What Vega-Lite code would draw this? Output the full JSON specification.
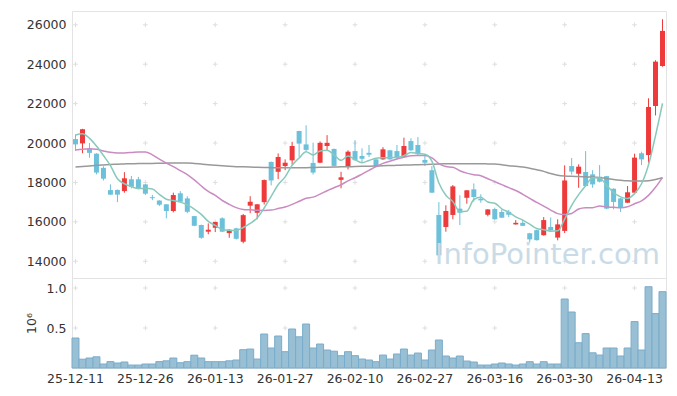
{
  "$schema": "https://vega.github.io/schema/vega-lite/v6.json",
  "background": "white",
  "padding": {"left": 24, "top": 10, "right": 10, "bottom": 0},
  "spacing": 0,
  "bounds": "flush",
  "config": {
    "font": "DejaVu Sans",
    "view": {"stroke": "#e3e3e3"},
    "axis": {"labelFont": "DejaVu Sans", "labelFontSize": 12.5, "labelColor": "#333333", "domain": false, "ticks": false, "grid": false, "labelPadding": 6}
  },
  "datasets": {
    "k": [
      {"d": "25-12-11", "o": 20200, "h": 20440, "l": 19600, "c": 19930, "v": 0.375, "m5": 20406, "m20": 19645, "m60": 18780},
      {"d": "25-12-12", "o": 19980, "h": 20720, "l": 19480, "c": 20700, "v": 0.11, "m5": 20472, "m20": 19690, "m60": 18810},
      {"d": "25-12-15", "o": 19710, "h": 20000, "l": 19250, "c": 19500, "v": 0.125, "m5": 20239, "m20": 19710, "m60": 18840},
      {"d": "25-12-16", "o": 19460, "h": 19480, "l": 18410, "c": 18500, "v": 0.14, "m5": 19848, "m20": 19680, "m60": 18870},
      {"d": "25-12-17", "o": 18740, "h": 18820, "l": 18100, "c": 18190, "v": 0.05, "m5": 19364, "m20": 19600, "m60": 18890},
      {"d": "25-12-18", "o": 17610, "h": 17900, "l": 17370, "c": 17380, "v": 0.08, "m5": 18854, "m20": 19530, "m60": 18910},
      {"d": "25-12-19", "o": 17620, "h": 17640, "l": 17000, "c": 17380, "v": 0.0625, "m5": 18190, "m20": 19500, "m60": 18925},
      {"d": "25-12-22", "o": 17560, "h": 18520, "l": 17480, "c": 18210, "v": 0.075, "m5": 17932, "m20": 19500, "m60": 18940},
      {"d": "25-12-23", "o": 18160, "h": 18330, "l": 17700, "c": 17780, "v": 0.037, "m5": 17788, "m20": 19520, "m60": 18950},
      {"d": "25-12-24", "o": 18160, "h": 18280, "l": 17650, "c": 17700, "v": 0.037, "m5": 17690, "m20": 19550, "m60": 18955},
      {"d": "25-12-26", "o": 17900, "h": 17920, "l": 17360, "c": 17430, "v": 0.05, "m5": 17700, "m20": 19550, "m60": 18960},
      {"d": "25-12-29", "o": 17250, "h": 17370, "l": 17100, "c": 17200, "v": 0.05, "m5": 17664, "m20": 19400, "m60": 18965},
      {"d": "25-12-30", "o": 17080, "h": 17100, "l": 16800, "c": 16870, "v": 0.08, "m5": 17396, "m20": 19180, "m60": 18970},
      {"d": "26-01-02", "o": 16890, "h": 16900, "l": 16180, "c": 16550, "v": 0.09, "m5": 17150, "m20": 18980, "m60": 18980},
      {"d": "26-01-05", "o": 16550, "h": 17480, "l": 16480, "c": 17360, "v": 0.125, "m5": 17082, "m20": 18800, "m60": 18990},
      {"d": "26-01-06", "o": 17450, "h": 17560, "l": 17000, "c": 17020, "v": 0.066, "m5": 17000, "m20": 18600, "m60": 18990},
      {"d": "26-01-07", "o": 17190, "h": 17300, "l": 16440, "c": 16510, "v": 0.079, "m5": 16862, "m20": 18400, "m60": 18985},
      {"d": "26-01-08", "o": 16290, "h": 16300, "l": 15780, "c": 15800, "v": 0.16, "m5": 16648, "m20": 18130, "m60": 18960},
      {"d": "26-01-09", "o": 15840, "h": 15860, "l": 15140, "c": 15190, "v": 0.125, "m5": 16376, "m20": 17820, "m60": 18930},
      {"d": "26-01-12", "o": 15500, "h": 15920, "l": 15370, "c": 15600, "v": 0.079, "m5": 16024, "m20": 17540, "m60": 18900},
      {"d": "26-01-13", "o": 15700, "h": 16000, "l": 15480, "c": 15990, "v": 0.079, "m5": 15818, "m20": 17343, "m60": 18875},
      {"d": "26-01-14", "o": 16180, "h": 16230, "l": 15480, "c": 15500, "v": 0.079, "m5": 15616, "m20": 17083, "m60": 18845},
      {"d": "26-01-15", "o": 15430, "h": 15620, "l": 15190, "c": 15600, "v": 0.09, "m5": 15576, "m20": 16888, "m60": 18820},
      {"d": "26-01-16", "o": 15670, "h": 15700, "l": 15100, "c": 15140, "v": 0.1, "m5": 15566, "m20": 16720, "m60": 18800},
      {"d": "26-01-19", "o": 14990, "h": 16400, "l": 14910, "c": 16340, "v": 0.229, "m5": 15714, "m20": 16628, "m60": 18790},
      {"d": "26-01-20", "o": 16820, "h": 17300, "l": 16440, "c": 17020, "v": 0.237, "m5": 15920, "m20": 16610, "m60": 18780},
      {"d": "26-01-21", "o": 16460, "h": 16900, "l": 16130, "c": 16890, "v": 0.112, "m5": 16198, "m20": 16585, "m60": 18765},
      {"d": "26-01-22", "o": 17000, "h": 18150, "l": 16880, "c": 18120, "v": 0.425, "m5": 16702, "m20": 16581, "m60": 18755},
      {"d": "26-01-23", "o": 19040, "h": 19060, "l": 17850, "c": 18100, "v": 0.25, "m5": 17294, "m20": 16597, "m60": 18750},
      {"d": "26-01-26", "o": 18540, "h": 19470, "l": 18170, "c": 19290, "v": 0.4, "m5": 17884, "m20": 16676, "m60": 18745},
      {"d": "26-01-27", "o": 18830, "h": 19170, "l": 18620, "c": 19000, "v": 0.204, "m5": 18280, "m20": 16755, "m60": 18745},
      {"d": "26-01-28", "o": 19120, "h": 20060, "l": 18900, "c": 19850, "v": 0.4875, "m5": 18872, "m20": 16887, "m60": 18745},
      {"d": "26-01-29", "o": 20610, "h": 20620, "l": 19300, "c": 19970, "v": 0.39, "m5": 19242, "m20": 17042, "m60": 18745},
      {"d": "26-01-30", "o": 19930, "h": 20900, "l": 19600, "c": 19650, "v": 0.55, "m5": 19552, "m20": 17197, "m60": 18750},
      {"d": "26-02-02", "o": 18990, "h": 20020, "l": 18400, "c": 18500, "v": 0.25, "m5": 19394, "m20": 17254, "m60": 18755},
      {"d": "26-02-03", "o": 19000, "h": 20080, "l": 18980, "c": 20010, "v": 0.3, "m5": 19596, "m20": 17404, "m60": 18765},
      {"d": "26-02-04", "o": 19850, "h": 20400, "l": 19630, "c": 20010, "v": 0.225, "m5": 19628, "m20": 17579, "m60": 18770},
      {"d": "26-02-05", "o": 19700, "h": 19720, "l": 18820, "c": 18840, "v": 0.21, "m5": 19402, "m20": 17731, "m60": 18780},
      {"d": "26-02-06", "o": 18130, "h": 18540, "l": 17700, "c": 18260, "v": 0.154, "m5": 19124, "m20": 17884, "m60": 18790},
      {"d": "26-02-09", "o": 18800, "h": 19630, "l": 18660, "c": 19560, "v": 0.204, "m5": 19336, "m20": 18082, "m60": 18797},
      {"d": "26-02-10", "o": 19590, "h": 20140, "l": 19100, "c": 19130, "v": 0.154, "m5": 19160, "m20": 18239, "m60": 18805},
      {"d": "26-02-11", "o": 19340, "h": 19730, "l": 19000, "c": 19200, "v": 0.112, "m5": 18998, "m20": 18424, "m60": 18815},
      {"d": "26-02-12", "o": 19500, "h": 19900, "l": 19290, "c": 19410, "v": 0.1, "m5": 19112, "m20": 18615, "m60": 18825},
      {"d": "26-02-13", "o": 19170, "h": 19180, "l": 18800, "c": 18840, "v": 0.079, "m5": 19228, "m20": 18800, "m60": 18835},
      {"d": "26-02-19", "o": 19170, "h": 19790, "l": 19150, "c": 19680, "v": 0.162, "m5": 19252, "m20": 18967, "m60": 18850},
      {"d": "26-02-20", "o": 19630, "h": 19650, "l": 19150, "c": 19170, "v": 0.112, "m5": 19260, "m20": 19074, "m60": 18860},
      {"d": "26-02-23", "o": 19590, "h": 19900, "l": 19170, "c": 19250, "v": 0.175, "m5": 19270, "m20": 19192, "m60": 18868},
      {"d": "26-02-24", "o": 19290, "h": 20270, "l": 19280, "c": 19850, "v": 0.237, "m5": 19358, "m20": 19279, "m60": 18880},
      {"d": "26-02-25", "o": 20100, "h": 20240, "l": 19600, "c": 19630, "v": 0.162, "m5": 19516, "m20": 19355, "m60": 18890},
      {"d": "26-02-26", "o": 19900, "h": 20300, "l": 19340, "c": 19430, "v": 0.187, "m5": 19466, "m20": 19362, "m60": 18900},
      {"d": "26-02-27", "o": 19140, "h": 19340, "l": 18830, "c": 19000, "v": 0.1, "m5": 19432, "m20": 19362, "m60": 18910},
      {"d": "26-03-03", "o": 18620, "h": 18830, "l": 17470, "c": 17480, "v": 0.225, "m5": 19078, "m20": 19244, "m60": 18920},
      {"d": "26-03-04", "o": 16350, "h": 17000, "l": 14080, "c": 14300, "v": 0.35, "m5": 17968, "m20": 18960, "m60": 18935},
      {"d": "26-03-05", "o": 15740, "h": 16840, "l": 15500, "c": 16550, "v": 0.15, "m5": 17352, "m20": 18805, "m60": 18945},
      {"d": "26-03-06", "o": 16350, "h": 17870, "l": 16130, "c": 17800, "v": 0.125, "m5": 17026, "m20": 18770, "m60": 18950},
      {"d": "26-03-09", "o": 16670, "h": 17350, "l": 15840, "c": 16460, "v": 0.15, "m5": 16518, "m20": 18593, "m60": 18950},
      {"d": "26-03-10", "o": 17220, "h": 17610, "l": 16920, "c": 17600, "v": 0.087, "m5": 16542, "m20": 18472, "m60": 18950},
      {"d": "26-03-11", "o": 17650, "h": 17950, "l": 17020, "c": 17260, "v": 0.075, "m5": 17134, "m20": 18393, "m60": 18945},
      {"d": "26-03-12", "o": 17170, "h": 17400, "l": 16970, "c": 17090, "v": 0.037, "m5": 17242, "m20": 18335, "m60": 18945},
      {"d": "26-03-13", "o": 16360, "h": 16640, "l": 16280, "c": 16630, "v": 0.037, "m5": 17008, "m20": 18188, "m60": 18940},
      {"d": "26-03-16", "o": 16650, "h": 16720, "l": 16100, "c": 16130, "v": 0.05, "m5": 16942, "m20": 18038, "m60": 18935},
      {"d": "26-03-17", "o": 16500, "h": 16630, "l": 16200, "c": 16210, "v": 0.0625, "m5": 16664, "m20": 17889, "m60": 18900},
      {"d": "26-03-18", "o": 16510, "h": 16610, "l": 16240, "c": 16360, "v": 0.05, "m5": 16484, "m20": 17736, "m60": 18850},
      {"d": "26-03-19", "o": 15870, "h": 16090, "l": 15860, "c": 15950, "v": 0.037, "m5": 16256, "m20": 17592, "m60": 18820},
      {"d": "26-03-20", "o": 15950, "h": 16110, "l": 15790, "c": 15800, "v": 0.05, "m5": 16090, "m20": 17398, "m60": 18780},
      {"d": "26-03-23", "o": 15420, "h": 15440, "l": 14950, "c": 15110, "v": 0.079, "m5": 15886, "m20": 17195, "m60": 18720},
      {"d": "26-03-24", "o": 15580, "h": 15600, "l": 15050, "c": 15070, "v": 0.05, "m5": 15658, "m20": 16986, "m60": 18640},
      {"d": "26-03-25", "o": 15320, "h": 16240, "l": 15300, "c": 16090, "v": 0.079, "m5": 15604, "m20": 16798, "m60": 18560},
      {"d": "26-03-26", "o": 15740, "h": 16220, "l": 15550, "c": 15570, "v": 0.05, "m5": 15528, "m20": 16595, "m60": 18450},
      {"d": "26-03-27", "o": 15200, "h": 16130, "l": 15060, "c": 15870, "v": 0.05, "m5": 15542, "m20": 16417, "m60": 18370},
      {"d": "26-03-30", "o": 15540, "h": 18870, "l": 15430, "c": 18100, "v": 0.8625, "m5": 16140, "m20": 16372, "m60": 18330},
      {"d": "26-03-31", "o": 18830, "h": 19240, "l": 18400, "c": 18550, "v": 0.7, "m5": 16836, "m20": 16425, "m60": 18310},
      {"d": "26-04-01", "o": 18440, "h": 18920, "l": 17730, "c": 18800, "v": 0.316, "m5": 17378, "m20": 16650, "m60": 18300},
      {"d": "26-04-02", "o": 18530, "h": 19590, "l": 17800, "c": 17820, "v": 0.43, "m5": 17828, "m20": 16714, "m60": 18285},
      {"d": "26-04-03", "o": 18410, "h": 18620, "l": 17730, "c": 17900, "v": 0.19, "m5": 18234, "m20": 16719, "m60": 18270},
      {"d": "26-04-06", "o": 18290, "h": 18880, "l": 18000, "c": 18040, "v": 0.162, "m5": 18222, "m20": 16798, "m60": 18240},
      {"d": "26-04-07", "o": 18320, "h": 18330, "l": 16640, "c": 16670, "v": 0.25, "m5": 17846, "m20": 16751, "m60": 18200},
      {"d": "26-04-08", "o": 17680, "h": 17700, "l": 16630, "c": 17010, "v": 0.25, "m5": 17488, "m20": 16739, "m60": 18150},
      {"d": "26-04-09", "o": 17190, "h": 17210, "l": 16500, "c": 16720, "v": 0.15, "m5": 17268, "m20": 16720, "m60": 18110},
      {"d": "26-04-10", "o": 16970, "h": 17820, "l": 16950, "c": 17500, "v": 0.25, "m5": 17188, "m20": 16764, "m60": 18080},
      {"d": "26-04-13", "o": 17480, "h": 19460, "l": 17470, "c": 19260, "v": 0.58, "m5": 17432, "m20": 16920, "m60": 18070},
      {"d": "26-04-14", "o": 19480, "h": 19560, "l": 18880, "c": 19170, "v": 0.225, "m5": 17932, "m20": 17068, "m60": 18070},
      {"d": "26-04-15", "o": 19390, "h": 22270, "l": 19000, "c": 21830, "v": 1.016, "m5": 18896, "m20": 17342, "m60": 18090},
      {"d": "26-04-16", "o": 21880, "h": 24200, "l": 21400, "c": 24130, "v": 0.68, "m5": 20378, "m20": 17751, "m60": 18150},
      {"d": "26-04-17", "o": 23910, "h": 26280, "l": 23870, "c": 25690, "v": 0.954, "m5": 22016, "m20": 18245, "m60": 18240}
    ],
    "gp": [
      {"d": "25-12-11", "p": [14000, 16000, 18000, 20000, 22000, 24000, 26000]},
      {"d": "25-12-26", "p": [14000, 16000, 18000, 20000, 22000, 24000, 26000]},
      {"d": "26-01-13", "p": [14000, 16000, 18000, 20000, 22000, 24000, 26000]},
      {"d": "26-01-27", "p": [14000, 16000, 18000, 20000, 22000, 24000, 26000]},
      {"d": "26-02-10", "p": [14000, 16000, 18000, 20000, 22000, 24000, 26000]},
      {"d": "26-02-27", "p": [14000, 16000, 18000, 20000, 22000, 24000, 26000]},
      {"d": "26-03-16", "p": [14000, 16000, 18000, 20000, 22000, 24000, 26000]},
      {"d": "26-03-30", "p": [14000, 16000, 18000, 20000, 22000, 24000, 26000]},
      {"d": "26-04-13", "p": [14000, 16000, 18000, 20000, 22000, 24000, 26000]}
    ],
    "gv": [
      {"d": "25-12-11", "q": [0.5, 1.0]},
      {"d": "25-12-26", "q": [0.5, 1.0]},
      {"d": "26-01-13", "q": [0.5, 1.0]},
      {"d": "26-01-27", "q": [0.5, 1.0]},
      {"d": "26-02-10", "q": [0.5, 1.0]},
      {"d": "26-02-27", "q": [0.5, 1.0]},
      {"d": "26-03-16", "q": [0.5, 1.0]},
      {"d": "26-03-30", "q": [0.5, 1.0]},
      {"d": "26-04-13", "q": [0.5, 1.0]}
    ]
  },
  "vconcat": [
    {
      "width": 594,
      "height": 267,
      "title": {"text": "InfoPointer.com", "orient": "bottom", "anchor": "end", "offset": -37, "dx": -6, "fontSize": 29, "fontWeight": "normal", "font": "DejaVu Sans", "color": "#c9dbe6"},
      "encoding": {
        "x": {"field": "d", "type": "ordinal", "sort": "ascending", "scale": {"paddingInner": 0, "paddingOuter": 0}, "axis": null}
      },
      "layer": [
        {
          "data": {"name": "gp"},
          "transform": [{"flatten": ["p"]}],
          "mark": {"type": "point", "shape": "M-1,0H1M0,-1V1", "size": 22, "filled": false, "color": "#dedede", "strokeWidth": 1, "opacity": 1},
          "encoding": {
            "y": {"field": "p", "type": "quantitative", "title": null, "scale": {"domain": [13150, 26700], "nice": false, "zero": false},
                  "axis": {"values": [14000, 16000, 18000, 20000, 22000, 24000, 26000], "format": "d", "title": null}}
          }
        },
        {
          "data": {"name": "k"},
          "mark": {"type": "rule", "strokeWidth": 1},
          "encoding": {
            "y": {"field": "l", "type": "quantitative", "title": null, "scale": {"domain": [13150, 26700], "nice": false, "zero": false},
                  "axis": {"values": [14000, 16000, 18000, 20000, 22000, 24000, 26000], "format": "d", "title": null}},
            "y2": {"field": "h"},
            "color": {"condition": {"test": "datum.c >= datum.o", "value": "#ee3a3a"}, "value": "#6cc0d9"}
          }
        },
        {
          "data": {"name": "k"},
          "mark": {"type": "bar", "size": 5},
          "encoding": {
            "y": {"field": "o", "type": "quantitative", "title": null, "scale": {"domain": [13150, 26700], "nice": false, "zero": false},
                  "axis": {"values": [14000, 16000, 18000, 20000, 22000, 24000, 26000], "format": "d", "title": null}},
            "y2": {"field": "c"},
            "color": {"condition": {"test": "datum.c >= datum.o", "value": "#ee3a3a"}, "value": "#6cc0d9"}
          }
        },
        {
          "data": {"name": "k"},
          "mark": {"type": "line", "color": "#999999", "strokeWidth": 1.5, "interpolate": "monotone"},
          "encoding": {
            "y": {"field": "m60", "type": "quantitative", "title": null, "scale": {"domain": [13150, 26700], "nice": false, "zero": false},
                  "axis": {"values": [14000, 16000, 18000, 20000, 22000, 24000, 26000], "format": "d", "title": null}}
          }
        },
        {
          "data": {"name": "k"},
          "mark": {"type": "line", "color": "#c98bc2", "strokeWidth": 1.5, "interpolate": "monotone"},
          "encoding": {
            "y": {"field": "m20", "type": "quantitative", "title": null, "scale": {"domain": [13150, 26700], "nice": false, "zero": false},
                  "axis": {"values": [14000, 16000, 18000, 20000, 22000, 24000, 26000], "format": "d", "title": null}}
          }
        },
        {
          "data": {"name": "k"},
          "mark": {"type": "line", "color": "#88c9bb", "strokeWidth": 1.5, "interpolate": "monotone"},
          "encoding": {
            "y": {"field": "m5", "type": "quantitative", "title": null, "scale": {"domain": [13150, 26700], "nice": false, "zero": false},
                  "axis": {"values": [14000, 16000, 18000, 20000, 22000, 24000, 26000], "format": "d", "title": null}}
          }
        }
      ]
    },
    {
      "width": 594,
      "height": 90,
      "encoding": {
        "x": {"field": "d", "type": "ordinal", "sort": "ascending", "scale": {"paddingInner": 0, "paddingOuter": 0},
              "axis": {"values": ["25-12-11", "25-12-26", "26-01-13", "26-01-27", "26-02-10", "26-02-27", "26-03-16", "26-03-30", "26-04-13"], "labelAngle": 0, "labelPadding": 4, "title": null}}
      },
      "layer": [
        {
          "data": {"name": "gv"},
          "transform": [{"flatten": ["q"]}],
          "mark": {"type": "point", "shape": "M-1,0H1M0,-1V1", "size": 22, "filled": false, "color": "#dedede", "strokeWidth": 1, "opacity": 1},
          "encoding": {
            "y": {"field": "q", "type": "quantitative", "title": "10⁶", "scale": {"domain": [0, 1.125], "nice": false},
                  "axis": {"values": [0.5, 1.0], "format": ".1f", "title": "10⁶", "titleFontSize": 12.5, "titleFontWeight": "normal", "titleColor": "#333333", "titlePadding": 8, "titleFont": "DejaVu Sans"}}
          }
        },
        {
          "data": {"name": "k"},
          "mark": {"type": "bar", "color": "#98bfd3", "stroke": "#7aaccb", "strokeWidth": 1},
          "encoding": {
            "y": {"field": "v", "type": "quantitative", "title": "10⁶", "scale": {"domain": [0, 1.125], "nice": false},
                  "axis": {"values": [0.5, 1.0], "format": ".1f", "title": "10⁶", "titleFontSize": 12.5, "titleFontWeight": "normal", "titleColor": "#333333", "titlePadding": 8, "titleFont": "DejaVu Sans"}}
          }
        }
      ]
    }
  ]
}
